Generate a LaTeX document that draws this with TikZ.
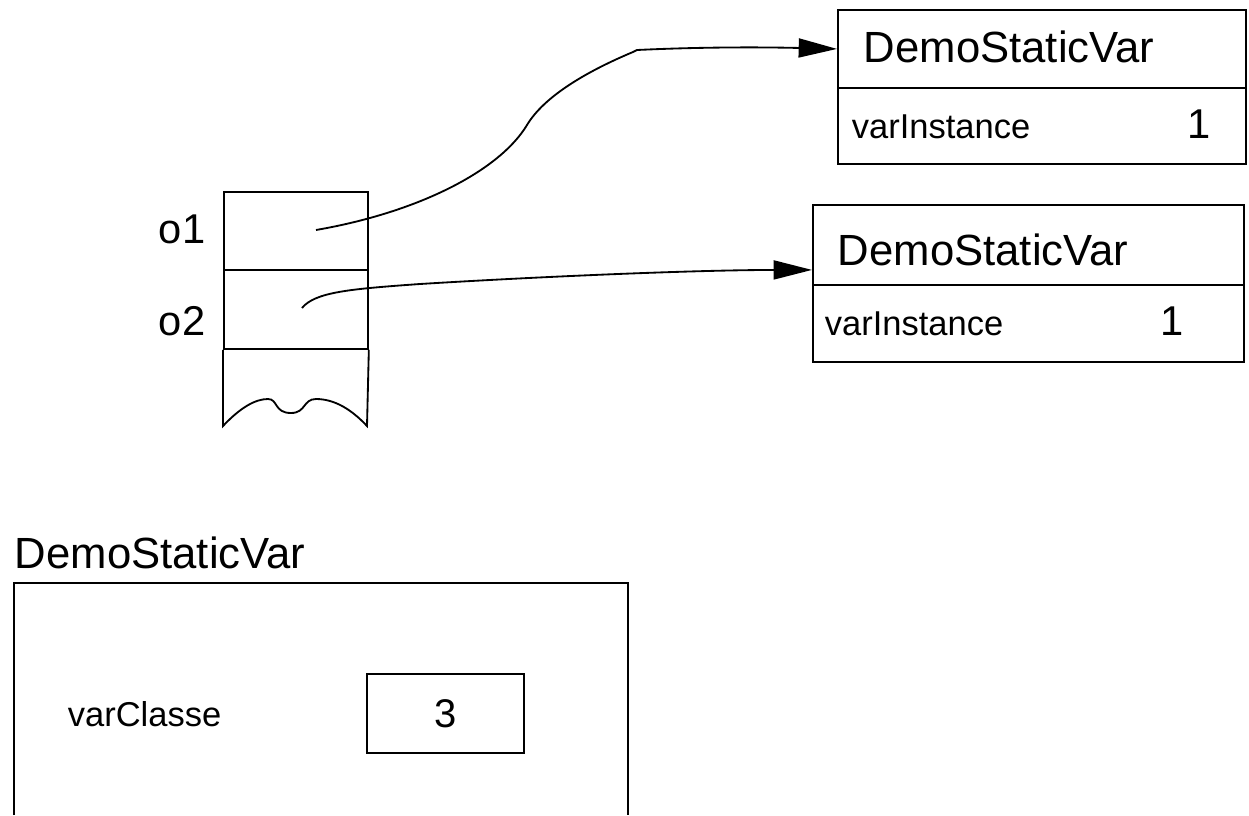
\documentclass[tikz,border=0pt]{standalone}
\usepackage{fontspec}
\setmainfont{Liberation Sans}
\usetikzlibrary{arrows.meta}

\begin{document}
\begin{tikzpicture}[x=0.6pt,y=-0.6pt,line width=1.1pt,
    cell/.style={draw,rectangle,inner sep=0,anchor=north west},
    big/.style={inner sep=0,anchor=base west,font=\fontsize{25}{30}\selectfont},
    title/.style={inner sep=0,anchor=base west,font=\fontsize{26.2}{31}\selectfont},
    small/.style={inner sep=0,anchor=base west,font=\fontsize{20.7}{25}\selectfont},
    ref/.style={-{Triangle[length=23pt,width=11.4pt]}}]
  \useasboundingbox (0,0) rectangle (1249,815);
  % stack with the two references
  \node[cell,minimum width=86.4pt,minimum height=46.8pt] (s1) at (223,191) {};
  \node[cell,minimum width=86.4pt,minimum height=47.4pt] (s2) at (223,269) {};
  \draw (s2.south west) -- (223,426) .. controls (240,408) and (255,399) .. (268,399)
    .. controls (278,399) and (274,413) .. (291,413) .. controls (306,413) and (303,399) .. (316,399)
    .. controls (335,399) and (352,410) .. (367,426) -- (s2.south east);
  \node[big] (o1) at (158,243) {o1};
  \node[big] (o2) at (158,335) {o2};
  \coordinate (r1) at (316,230);
  \coordinate (r2) at (302,308);
  % first object
  \node[cell,minimum width=244.8pt,minimum height=46.8pt] (t1) at (837,9) {};
  \node[cell,minimum width=244.8pt,minimum height=45.6pt] (f1) at (837,87) {};
  \node[title] (n1) at (863,62) {DemoStaticVar};
  \node[small] (i1) at (851,138) {varInstance};
  \node[big] (v1) at (1187,138) {1};
  % second object
  \node[cell,minimum width=258.6pt,minimum height=48pt] (t2) at (812,204) {};
  \node[cell,minimum width=258.6pt,minimum height=46.2pt] (f2) at (812,284) {};
  \node[title] (n2) at (837,265) {DemoStaticVar};
  \node[small] (i2) at (824,335) {varInstance};
  \node[big] (v2) at (1160,335) {1};
  % references
  \draw[ref] (r1) .. controls (420,212) and (500,170) .. (527,125)
    .. controls (545,95) and (590,70) .. (633,52) -- (637,50)
    .. controls (700,47) and (760,47) .. (t1.west);
  \draw[ref] (r2) .. controls (315,292) and (350,289) .. (420,284)
    .. controls (550,276) and (700,270) .. ([yshift=-15pt]t2.west);
  % the class
  \node[title] (c) at (14,568) {DemoStaticVar};
  \draw (14,815) -- (14,583) -- (628,583) -- (628,815);
  \node[small] (vc) at (67,726) {varClasse};
  \node[draw,inner sep=0,minimum width=94.2pt,minimum height=47.4pt,
    font=\fontsize{24}{29}\selectfont] (v3) at (445.5,713.5) {3};
\end{tikzpicture}
\end{document}
